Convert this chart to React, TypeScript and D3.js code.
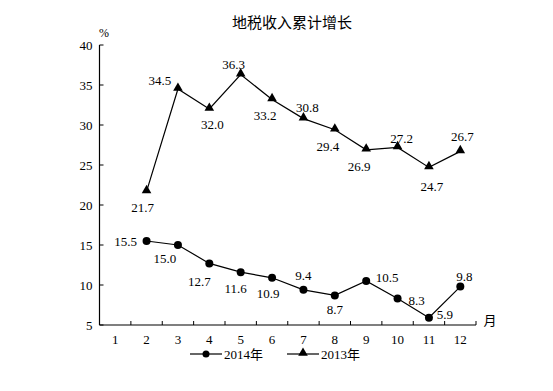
import React, { useEffect, useRef } from 'react';
import * as d3 from 'd3';

const months = ['1', '2', '3', '4', '5', '6', '7', '8', '9', '10', '11', '12'];
const yTicks = [5, 10, 15, 20, 25, 30, 35, 40];

// month 1 has no value
const growth2014 = [null, 15.5, 15.0, 12.7, 11.6, 10.9, 9.4, 8.7, 10.5, 8.3, 5.9, 9.8];
const growth2013 = [null, 21.7, 34.5, 32.0, 36.3, 33.2, 30.8, 29.4, 26.9, 27.2, 24.7, 26.7];

// label placement (dx, dy) relative to each point
const offsets2014 = [null, [-21, 0], [-13, 13], [-10, 18], [-5, 16], [-4, 16], [0, -14], [0, 14], [21, -4], [19, 2], [16, -3], [4, -10]];
const offsets2013 = [null, [-4, 16], [-18, -9], [3, 15], [-7, -10], [-7, 16], [4, -11], [-7, 17], [-7, 17], [4, -9], [3, 19], [2, -15]];

const FONT = "Liberation Serif, DejaVu Serif, Noto Sans CJK SC, serif";

const App = () => {
    const svgRef = useRef(null);

    useEffect(() => {
        const width = 553;
        const height = 391;
        const margin = { top: 45, right: 77, bottom: 66, left: 99.5 };

        const svg = d3.select(svgRef.current);
        svg.selectAll('*').remove();
        svg.attr('width', width).attr('height', height);

        const text = (tx, ty, s, size = 13, anchor = 'middle') =>
            svg.append('text')
                .attr('x', tx).attr('y', ty).attr('dy', '0.35em')
                .attr('text-anchor', anchor)
                .attr('font-family', FONT)
                .attr('font-size', size)
                .attr('fill', '#000')
                .text(s);

        const x = d3.scaleBand()
            .domain(months)
            .range([margin.left, width - margin.right]);

        const y = d3.scaleLinear()
            .domain([5, 40])
            .range([height - margin.bottom, margin.top]);

        const cx = (i) => x(months[i]) + x.bandwidth() / 2;

        // title
        text(292, 23, '地税收入累计增长', 15);

        // y axis
        const y0 = y(5);
        svg.append('line')
            .attr('x1', margin.left).attr('x2', margin.left)
            .attr('y1', y(40)).attr('y2', y0)
            .attr('stroke', '#000').attr('stroke-width', 1.2);
        yTicks.forEach(t => {
            svg.append('line')
                .attr('x1', margin.left).attr('x2', margin.left + 4)
                .attr('y1', y(t)).attr('y2', y(t))
                .attr('stroke', '#000');
            text(margin.left - 7, y(t), t, 13, 'end');
        });
        text(104, 33, '%', 12);

        // x axis
        svg.append('line')
            .attr('x1', margin.left).attr('x2', width - margin.right)
            .attr('y1', y0).attr('y2', y0)
            .attr('stroke', '#000').attr('stroke-width', 1.2);
        months.forEach((m, i) => {
            const bx = x(m) + x.bandwidth();
            svg.append('line')
                .attr('x1', bx).attr('x2', bx)
                .attr('y1', y0).attr('y2', y0 - 4)
                .attr('stroke', '#000');
            text(cx(i), 339, m);
        });
        text(490, 320, '月');

        const line = d3.line()
            .defined(d => d != null)
            .x((d, i) => cx(i))
            .y(d => y(d));

        const triangle = d3.symbol().type(d3.symbolTriangle).size(40);

        const drawSeries = (values, offsets, marker) => {
            svg.append('path')
                .attr('d', line(values))
                .attr('fill', 'none').attr('stroke', '#000').attr('stroke-width', 1.2);
            values.forEach((v, i) => {
                if (v == null) return;
                if (marker === 'circle') {
                    svg.append('circle')
                        .attr('cx', cx(i)).attr('cy', y(v)).attr('r', 4)
                        .attr('fill', '#000');
                } else {
                    svg.append('path')
                        .attr('d', triangle())
                        .attr('transform', `translate(${cx(i)},${y(v) - 1})`)
                        .attr('fill', '#000');
                }
                const [dx, dy] = offsets[i];
                text(cx(i) + dx, y(v) + dy, v.toFixed(1));
            });
        };

        drawSeries(growth2014, offsets2014, 'circle');
        drawSeries(growth2013, offsets2013, 'triangle');

        // legend
        const ly = 354;
        const legend = [
            { label: '2014年', x0: 190, marker: 'circle' },
            { label: '2013年', x0: 287, marker: 'triangle' },
        ];
        legend.forEach(l => {
            svg.append('line')
                .attr('x1', l.x0).attr('x2', l.x0 + 32)
                .attr('y1', ly).attr('y2', ly)
                .attr('stroke', '#000').attr('stroke-width', 1.2);
            if (l.marker === 'circle') {
                svg.append('circle')
                    .attr('cx', l.x0 + 16).attr('cy', ly).attr('r', 3.5).attr('fill', '#000');
            } else {
                svg.append('path')
                    .attr('d', triangle())
                    .attr('transform', `translate(${l.x0 + 16},${ly - 1})`)
                    .attr('fill', '#000');
            }
            text(l.x0 + 34, ly, l.label, 13, 'start');
        });
    }, []);

    return (
        <svg ref={svgRef} style={{ position: 'absolute', left: 0, top: 0 }}></svg>
    );
};

export default App;
